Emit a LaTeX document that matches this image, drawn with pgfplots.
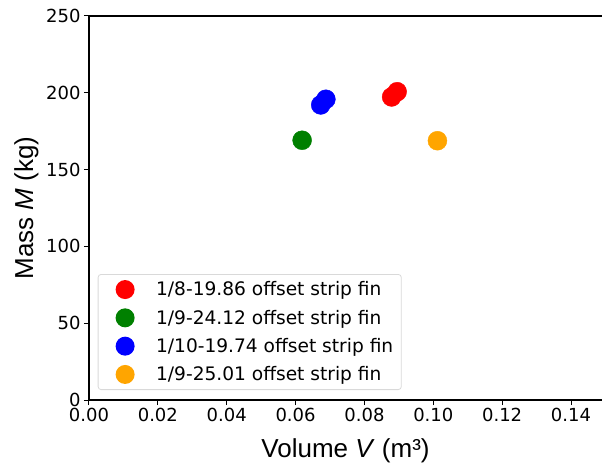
\documentclass[border=0pt]{standalone}
\usepackage{fontspec}
\setmainfont{DejaVu Sans}
\newfontfamily\labelfont{Liberation Sans}
\usepackage{pgfplots}
\pgfplotsset{compat=1.18}
\definecolor{mplorange}{HTML}{FFA500}
\definecolor{mplgreen}{HTML}{008000}
\begin{document}
\begin{tikzpicture}
\begin{axis}[
  at={(0,0)}, anchor=south west,
  scale only axis, width=513bp, height=384bp,
  xmin=0, xmax=0.149, ymin=0, ymax=250,
  axis y line*=left,
  tick pos=left, tick align=outside,
  major tick length=5bp,
  axis line style={line width=1.1bp},
  every tick/.style={black, line width=1bp},
  xtick={0,0.02,0.04,0.06,0.08,0.10,0.12,0.14},
  ytick={0,50,100,150,200,250},
  xticklabel style={/pgf/number format/.cd, fixed, fixed zerofill, precision=2},
  /pgf/number format/assume math mode=true,
  ticklabel style={font=\fontsize{18bp}{21bp}\selectfont},
  xlabel={\labelfont Volume \textit{V} (m³)},
  ylabel={\labelfont Mass \textit{M} (kg)},
  label style={font=\fontsize{26bp}{30bp}\selectfont},
  xlabel style={at={(axis description cs:0.5,-0.151)}, anchor=base},
  ylabel style={at={(axis description cs:-0.109,0.5)}, anchor=base, rotate=0},
  legend style={at={(axis description cs:0.017,0.026)}, anchor=south west,
    draw=black!15, rounded corners=3bp, line width=0.8bp,
    font=\fontsize{18.6bp}{21bp}\selectfont,
    inner xsep=6bp, inner ysep=1bp, row sep=0bp},
  legend cell align=left,
  legend image code/.code={\path[draw=none,fill=none,use as bounding box] (0,-14.15bp) rectangle (50bp,14.15bp);\fill[#1] (21bp,0) circle (9.5bp);},
]
\addplot[only marks, mark=*, mark size=9.5bp, draw=none, fill=red, color=red] coordinates {(0.0879,197.3) (0.0895,200.7)};
\addlegendentry{1/8-19.86 offset strip fin}
\addplot[only marks, mark=*, mark size=9.5bp, draw=none, fill=mplgreen, color=mplgreen] coordinates {(0.0619,169.1)};
\addlegendentry{1/9-24.12 offset strip fin}
\addplot[only marks, mark=*, mark size=9.5bp, draw=none, fill=blue, color=blue] coordinates {(0.0673,192.1) (0.0688,195.8)};
\addlegendentry{1/10-19.74 offset strip fin}
\addplot[only marks, mark=*, mark size=9.5bp, draw=none, fill=mplorange, color=mplorange] coordinates {(0.1012,168.8)};
\addlegendentry{1/9-25.01 offset strip fin}
\end{axis}
\pgfresetboundingbox
\useasboundingbox (-89bp,-67bp) rectangle (513bp,400bp);
\end{tikzpicture}
\end{document}
